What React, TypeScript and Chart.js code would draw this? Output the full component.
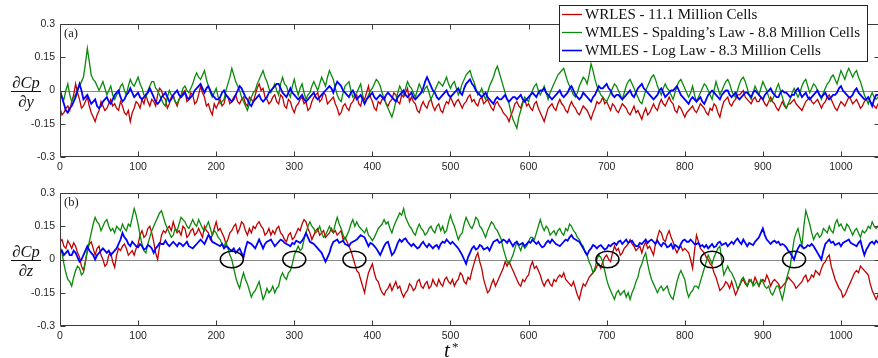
import React, { useEffect, useRef } from "react";
import { Chart, registerables } from "chart.js";

Chart.register(...registerables);

// ---------- data ----------
const T_STEP = 5; // sampling interval of the main samples (t*)
const T_MIN = 0;
const T_MAX = 1050;
const X_TICKS = [0, 100, 200, 300, 400, 500, 600, 700, 800, 900, 1000];
const Y_TICKS = [-0.3, -0.15, 0, 0.15, 0.3];
const Y_TICK_LABELS = ["-0.3", "-0.15", "0", "0.15", "0.3"];
const SERIES_LABELS = [
  "WRLES - 11.1 Million Cells",
  "WMLES - Spalding\u2019s Law - 8.8 Million Cells",
  "WMLES - Log Law - 8.3 Million Cells",
];
const PANEL_LABELS = ["(a)", "(b)"];
const Y_LABEL_NUM = "\u2202Cp";
const Y_LABEL_DEN = ["\u2202y", "\u2202z"];
const X_TITLE = "t";
const X_TITLE_SUP = "*";
// circled sign changes in panel (b), at t*
const MARK_T = [220, 300, 377, 701, 835, 940];

// panel (a): dCp/dy — samples at t = 0,5,10,...
const A_WRLES = [
  -0.08, -0.1, -0.07, -0.05, 0.03, -0.04, -0.07, -0.03, -0.1, -0.14,
  -0.09, -0.07, -0.08, -0.04, -0.06, -0.09, -0.07, -0.11, -0.14, -0.08,
  -0.06, -0.04, -0.02, -0.07, -0.05, -0.02, 0.0, -0.04, -0.06, -0.02,
  -0.07, -0.03, 0.0, -0.04, -0.02, -0.05, 0.02, -0.03, -0.06, -0.11,
  -0.08, -0.04, -0.06, -0.03, -0.05, -0.02, -0.06, -0.03, -0.07, -0.04,
  -0.02, 0.03, 0.01, -0.04, -0.05, -0.02, -0.06, -0.03, -0.08, -0.05,
  -0.1, -0.06, -0.03, -0.05, -0.08, -0.03, -0.01, -0.04, -0.02, -0.05,
  -0.03, -0.08, -0.1, -0.06, -0.09, -0.05, -0.02, -0.07, -0.04, 0.02,
  -0.05, -0.09, -0.06, -0.03, -0.07, -0.04, -0.02, -0.06, -0.03, 0.01,
  -0.03, -0.06, -0.1, -0.05, -0.08, -0.04, -0.09, -0.06, -0.1, -0.05,
  -0.03, -0.07, -0.04, -0.08, -0.05, -0.02, -0.04, -0.07, -0.03, -0.05,
  -0.06, -0.09, -0.05, -0.08, -0.11, -0.14, -0.09, -0.05, -0.08, -0.04,
  -0.06, -0.09, -0.05, -0.1, -0.14, -0.08, -0.06, -0.09, -0.04, -0.07,
  -0.1, -0.05, -0.08, -0.11, -0.07, -0.09, -0.13, -0.08, -0.06, -0.03,
  -0.05, -0.09, -0.07, -0.1, -0.06, -0.08, -0.11, -0.07, -0.09, -0.13,
  -0.08, -0.1, -0.06, -0.09, -0.04, -0.07, -0.03, -0.06, -0.1, -0.08,
  -0.12, -0.09, -0.07, -0.1, -0.06, -0.08, -0.11, -0.09, -0.07, -0.12,
  -0.05, -0.03, -0.07, -0.04, -0.02, 0.0, -0.04, -0.06, -0.03, -0.05,
  -0.04, -0.07, -0.03, -0.06, -0.09, -0.05, -0.08, -0.06, -0.04, -0.07,
  -0.09, -0.05, -0.03, -0.06, -0.04, -0.08, -0.05, -0.02, -0.06, -0.09,
  -0.05, -0.07, -0.03, -0.06, -0.04, -0.08, -0.05, -0.03, -0.06, -0.08, -0.05,
];
// samples at t = 2.5, 7.5, 12.5, ...
const A_WRLES_MID = [
  -0.11, -0.08, -0.09, -0.02, -0.01, -0.08, -0.05, -0.07, -0.12, -0.11,
  -0.05, -0.09, -0.06, -0.07, -0.08, -0.05, -0.1, -0.09, -0.1, -0.05,
  -0.08, -0.06, -0.05, -0.04, -0.07, 0.01, -0.03, -0.08, -0.03, -0.05,
  -0.04, -0.01, -0.05, -0.01, -0.06, -0.02, -0.01, -0.07, -0.09, -0.06,
  -0.06, -0.07, -0.02, -0.06, -0.03, -0.05, -0.04, -0.06, -0.03, -0.05,
  0.01, 0.0, -0.03, -0.06, -0.03, -0.05, -0.02, -0.07, -0.04, -0.08,
  -0.07, -0.04, -0.06, -0.09, -0.05, -0.02, -0.05, -0.01, -0.06, -0.04,
  -0.06, -0.11, -0.07, -0.08, -0.06, -0.03, -0.06, -0.03, -0.01, -0.03,
  -0.08, -0.05, -0.04, -0.06, -0.05, -0.01, -0.05, -0.02, -0.01, -0.05,
  -0.05, -0.09, -0.07, -0.07, -0.05, -0.07, -0.07, -0.09, -0.07, -0.06,
  -0.05, -0.05, -0.06, -0.06, -0.03, -0.05, -0.06, -0.04, -0.06, -0.04,
  -0.08, -0.06, -0.07, -0.1, -0.12, -0.11, -0.06, -0.07, -0.05, -0.07,
  -0.08, -0.06, -0.08, -0.12, -0.11, -0.07, -0.08, -0.06, -0.06, -0.09,
  -0.07, -0.07, -0.1, -0.09, -0.08, -0.11, -0.1, -0.05, -0.05, -0.06,
  -0.07, -0.06, -0.09, -0.08, -0.07, -0.1, -0.09, -0.1, -0.11, -0.1,
  -0.11, -0.08, -0.08, -0.06, -0.06, -0.05, -0.05, -0.09, -0.07, -0.1,
  -0.1, -0.08, -0.09, -0.08, -0.07, -0.1, -0.08, -0.06, -0.1, -0.08,
  -0.04, -0.06, -0.05, -0.02, -0.01, -0.03, -0.05, -0.04, -0.05, -0.03,
  -0.06, -0.05, -0.05, -0.08, -0.07, -0.07, -0.06, -0.05, -0.06, -0.08,
  -0.07, -0.04, -0.05, -0.05, -0.06, -0.06, -0.03, -0.04, -0.08, -0.07,
  -0.06, -0.05, -0.04, -0.05, -0.06, -0.07, -0.04, -0.05, -0.07, -0.06,
];
const A_SPALDING = [
  0.0, -0.04, 0.03, -0.05, -0.02, 0.02, 0.06, 0.19, 0.07, 0.04,
  0.0, 0.04, -0.02, 0.02, -0.04, -0.01, 0.03, -0.02, 0.05, 0.02,
  0.06, 0.01, -0.03, 0.02, 0.04, 0.0, -0.04, -0.07, 0.0, -0.03,
  -0.06, -0.02, 0.02, -0.01, 0.03, 0.08, 0.05, 0.09, 0.02, -0.03,
  0.01, -0.06, -0.04, 0.03, 0.1, 0.04, 0.0, -0.05, -0.09, -0.03,
  0.0, 0.05, 0.09, 0.04, -0.01, 0.03, -0.02, 0.06, 0.02, -0.03,
  0.05, -0.02, 0.03, -0.04, -0.01, 0.04, 0.0, 0.06, 0.02, 0.09,
  0.05, -0.02, -0.05, 0.02, 0.04, -0.03, -0.01, 0.03, -0.06, -0.02,
  0.01, 0.05, 0.02, -0.04, -0.08, -0.12, -0.05, 0.02, -0.02, 0.04,
  0.01, -0.03, 0.03, -0.01, 0.02, -0.04, 0.0, 0.04, 0.02, 0.06,
  0.01, 0.04, -0.02, 0.03, 0.07, 0.09, 0.04, -0.02, 0.01, -0.04,
  0.02, 0.06, 0.11, 0.05, -0.01, -0.06, -0.13, -0.17, -0.09, -0.03,
  -0.05, 0.0, 0.03, -0.02, 0.02, -0.04, 0.01, 0.05, 0.08, 0.1,
  0.04, 0.0, -0.03, 0.02, 0.06, 0.03, 0.12, 0.05, 0.0, -0.03,
  -0.05, -0.01, 0.03, 0.0, -0.04, 0.02, 0.05, 0.01, -0.03, -0.06,
  0.0, 0.04, 0.07, 0.02, -0.02, 0.03, 0.0, -0.04, 0.02, 0.05,
  0.01, -0.03, 0.02, -0.05, -0.01, 0.03, 0.0, -0.04, 0.04, -0.02,
  0.02, 0.05, 0.0, -0.03, 0.03, 0.06, 0.01, -0.04, 0.02, -0.02,
  0.04, 0.0, -0.05, -0.02, 0.03, -0.03, -0.08, -0.04, 0.01, -0.03,
  0.02, 0.05, -0.01, 0.03, 0.0, -0.04, 0.01, 0.04, 0.07, 0.03,
  0.09, 0.05, 0.1, 0.06, 0.09, 0.04, -0.02, -0.06, -0.01, -0.04, -0.02,
];
const A_SPALDING_MID = [
  -0.03, 0.0, -0.02, -0.03, 0.01, 0.04, 0.12, 0.13, 0.05, 0.02,
  0.02, 0.01, 0.0, -0.02, -0.02, 0.02, 0.0, 0.02, 0.03, 0.04,
  0.03, -0.02, 0.0, 0.04, 0.01, -0.02, -0.06, -0.03, -0.02, -0.05,
  -0.04, 0.01, 0.0, 0.01, 0.06, 0.06, 0.07, 0.05, -0.01, -0.01,
  -0.03, -0.05, 0.0, 0.06, 0.07, 0.02, -0.03, -0.07, -0.06, -0.01,
  0.03, 0.07, 0.06, 0.01, 0.01, 0.0, 0.03, 0.03, -0.01, 0.02,
  0.01, 0.01, -0.01, -0.02, 0.02, 0.02, 0.03, 0.04, 0.06, 0.07,
  0.01, -0.04, -0.01, 0.03, 0.0, -0.02, 0.01, -0.02, -0.04, 0.0,
  0.03, 0.04, -0.01, -0.06, -0.1, -0.09, -0.01, 0.0, 0.01, 0.02,
  -0.01, 0.0, 0.01, 0.01, -0.01, -0.02, 0.02, 0.03, 0.04, 0.03,
  0.03, 0.01, 0.0, 0.05, 0.08, 0.06, 0.01, -0.01, -0.02, -0.01,
  0.04, 0.09, 0.08, 0.02, -0.04, -0.1, -0.15, -0.12, -0.06, -0.04,
  -0.02, 0.02, 0.0, 0.0, -0.01, -0.01, 0.03, 0.07, 0.09, 0.07,
  0.02, -0.02, -0.01, 0.04, 0.05, 0.07, 0.09, 0.02, -0.02, -0.04,
  -0.03, 0.01, 0.02, -0.02, -0.01, 0.04, 0.03, -0.01, -0.05, -0.03,
  0.02, 0.06, 0.05, 0.0, 0.01, 0.01, -0.02, -0.01, 0.04, 0.03,
  -0.01, -0.01, -0.02, -0.03, 0.01, 0.02, -0.02, 0.0, 0.01, 0.0,
  0.04, 0.03, -0.02, 0.0, 0.05, 0.04, -0.02, -0.01, 0.0, 0.01,
  0.02, -0.03, -0.04, 0.01, 0.0, -0.06, -0.06, -0.01, -0.01, -0.01,
  0.04, 0.02, 0.01, 0.02, -0.02, -0.01, 0.03, 0.06, 0.05, 0.06,
  0.07, 0.08, 0.08, 0.08, 0.06, 0.01, -0.04, -0.03, -0.03, -0.03,
];
const A_LOGLAW = [
  0.0, -0.06, -0.1, -0.07, -0.03, 0.03, -0.04, -0.02, -0.06, -0.04,
  -0.08, -0.05, -0.03, -0.06, -0.02, 0.0, -0.05, -0.02, 0.01, -0.03,
  -0.01, -0.04, -0.02, 0.01, -0.03, -0.06, -0.03, -0.01, -0.05, -0.02,
  0.0, -0.03, -0.01, -0.04, -0.02, 0.01, 0.03, -0.01, 0.02, -0.02,
  -0.04, -0.03, 0.0, -0.03, -0.05, -0.02, 0.02, -0.01, -0.04, -0.07,
  -0.04, -0.02, -0.05, -0.03, 0.0, 0.02, 0.03, -0.01, -0.03, 0.01,
  -0.02, -0.04, -0.02, -0.05, -0.03, -0.01, -0.04, -0.02, 0.0, 0.02,
  -0.01, 0.04, 0.02, -0.01, -0.03, 0.0, -0.04, -0.02, -0.06, -0.03,
  -0.01, -0.04, -0.02, -0.04, -0.01, -0.03, -0.05, -0.02, 0.0, -0.03,
  -0.01, -0.04, -0.02, 0.01, 0.06, 0.02, -0.01, -0.04, -0.02, 0.0,
  -0.03, -0.01, 0.01, -0.02, 0.03, 0.05, 0.02, -0.01, -0.03, -0.01,
  -0.04, -0.06, -0.03, -0.04, -0.02, -0.05, -0.03, -0.04, -0.02, -0.05,
  -0.03, -0.01, -0.03, 0.0, 0.01, -0.02, -0.04, -0.02, 0.0, -0.03,
  -0.01, 0.02, -0.02, -0.04, -0.01, -0.03, -0.05, -0.02, 0.02, 0.01,
  0.03, 0.0, -0.03, -0.02, -0.04, -0.02, 0.0, -0.03, 0.01, 0.03,
  0.0, -0.02, -0.04, -0.02, 0.01, -0.03, -0.01, 0.0, 0.02, -0.02,
  -0.04, -0.06, -0.03, -0.05, -0.03, -0.06, -0.02, 0.0, -0.02, -0.04,
  -0.01, 0.0, -0.03, -0.01, -0.04, -0.02, -0.01, -0.03, 0.0, -0.02,
  -0.04, -0.01, 0.01, -0.02, -0.03, 0.0, -0.01, -0.03, -0.02, 0.01,
  -0.03, -0.01, -0.04, -0.02, 0.0, -0.03, -0.01, -0.04, -0.02, -0.01,
  0.02, -0.01, -0.03, -0.02, 0.01, -0.02, -0.04, -0.03, -0.07, -0.02, -0.03,
];
const A_LOGLAW_MID = [
  -0.03, -0.09, -0.08, -0.05, 0.0, 0.0, -0.03, -0.04, -0.05, -0.07,
  -0.07, -0.04, -0.05, -0.04, -0.01, -0.03, -0.04, -0.01, -0.01, -0.02,
  -0.03, -0.03, -0.01, -0.01, -0.05, -0.05, -0.02, -0.03, -0.04, -0.01,
  -0.02, -0.02, -0.03, -0.03, 0.0, 0.02, 0.01, 0.01, 0.0, -0.03,
  -0.04, -0.01, -0.02, -0.04, -0.04, 0.0, 0.01, -0.03, -0.06, -0.05,
  -0.03, -0.04, -0.04, -0.01, 0.01, 0.03, 0.01, -0.02, -0.01, -0.01,
  -0.03, -0.03, -0.04, -0.04, -0.02, -0.03, -0.03, -0.01, 0.01, 0.01,
  0.02, 0.03, 0.0, -0.02, -0.01, -0.02, -0.03, -0.04, -0.04, -0.02,
  -0.03, -0.03, -0.03, -0.02, -0.02, -0.04, -0.03, -0.01, -0.02, -0.02,
  -0.03, -0.03, -0.01, 0.04, 0.04, 0.0, -0.03, -0.03, -0.01, -0.02,
  -0.02, 0.0, -0.01, 0.01, 0.04, 0.03, 0.0, -0.02, -0.02, -0.03,
  -0.05, -0.04, -0.04, -0.03, -0.04, -0.04, -0.03, -0.03, -0.04, -0.04,
  -0.02, -0.02, -0.01, 0.0, -0.01, -0.03, -0.03, -0.01, -0.02, -0.02,
  0.01, 0.0, -0.03, -0.03, -0.02, -0.04, -0.03, 0.0, 0.01, 0.02,
  0.01, -0.02, -0.02, -0.03, -0.03, -0.01, -0.02, -0.01, 0.02, 0.01,
  -0.01, -0.03, -0.03, 0.0, -0.01, -0.02, 0.0, 0.01, 0.0, -0.03,
  -0.05, -0.04, -0.04, -0.04, -0.05, -0.04, -0.01, -0.01, -0.03, -0.02,
  0.0, -0.02, -0.02, -0.03, -0.03, -0.01, -0.02, -0.01, -0.01, -0.03,
  -0.02, 0.0, -0.01, -0.03, -0.01, -0.01, -0.02, -0.02, 0.0, -0.01,
  -0.02, -0.03, -0.03, -0.01, -0.02, -0.02, -0.03, -0.03, -0.02, 0.01,
  0.0, -0.02, -0.03, 0.0, -0.01, -0.03, -0.04, -0.05, -0.04, -0.02,
];

// panel (b): dCp/dz
const B_WRLES = [
  0.08, 0.06, 0.085, 0.05, 0.06, 0.01, -0.05, 0.04, 0.08, 0.02,
  0.06, 0.0, -0.02, 0.03, -0.035, 0.05, 0.06, 0.05, 0.03, 0.02,
  0.07, 0.13, 0.11, 0.15, 0.08, 0.0, 0.11, 0.12, 0.15, 0.17,
  0.12, 0.11, 0.14, 0.11, 0.14, 0.12, 0.12, 0.15, 0.12, 0.11,
  0.17, 0.14, 0.1, 0.09, 0.13, 0.16, 0.14, 0.16, 0.11, 0.12,
  0.14, 0.17, 0.14, 0.12, 0.11, 0.115, 0.15, 0.11, 0.08, 0.12,
  0.1, 0.14, 0.16, 0.17, 0.12, 0.11, 0.14, 0.12, 0.1, 0.12,
  0.12, 0.11, 0.13, 0.1, 0.06, 0.01, -0.05, -0.09, -0.15, -0.06,
  -0.02, -0.09, -0.13, -0.16, -0.13, -0.14, -0.1, -0.12, -0.17, -0.14,
  -0.12, -0.13, -0.09, -0.13, -0.1, -0.12, -0.11, -0.09, -0.12, -0.08,
  -0.11, -0.12, -0.09, -0.07, -0.11, -0.09, -0.02, 0.03, -0.04, -0.12,
  -0.14, -0.09, -0.1, -0.06, -0.01, -0.01, -0.05, -0.09, -0.12, -0.1,
  -0.07, -0.01, -0.03, -0.07, -0.12, -0.09, -0.12, -0.1, -0.07, -0.06,
  -0.1, -0.12, -0.13, -0.18, -0.11, -0.1, -0.07, -0.05, -0.02, -0.01,
  0.02, -0.01, 0.06, 0.05, 0.03, 0.06, 0.09, 0.06, 0.05, 0.03,
  0.08, 0.06, 0.02, 0.1, 0.12, 0.08, 0.13, 0.08, 0.03, 0.06,
  0.05, 0.03, -0.04, 0.11, 0.05, 0.03, 0.0, -0.03, -0.08, -0.14,
  -0.12, -0.11, -0.1, -0.16, -0.12, -0.09, -0.12, -0.1, -0.08, -0.12,
  -0.09, -0.07, -0.12, -0.09, -0.11, -0.12, -0.1, -0.09, -0.11, -0.12,
  -0.1, -0.07, -0.09, -0.08, -0.06, -0.04, -0.01, 0.02, -0.06, -0.11,
  -0.14, -0.16, -0.12, -0.08, -0.05, -0.03, -0.05, -0.07, -0.14, -0.18, -0.15,
];
const B_WRLES_MID = [
  0.09, 0.05, 0.07, 0.075, 0.03, -0.03, -0.01, 0.07, 0.05, 0.05,
  0.02, -0.03, 0.02, -0.01, 0.02, 0.04, 0.07, 0.02, 0.04, 0.05,
  0.11, 0.1, 0.14, 0.12, 0.03, 0.06, 0.13, 0.14, 0.13, 0.14,
  0.13, 0.15, 0.1, 0.13, 0.11, 0.14, 0.1, 0.13, 0.09, 0.14,
  0.13, 0.12, 0.07, 0.12, 0.15, 0.12, 0.17, 0.13, 0.14, 0.15,
  0.16, 0.15, 0.11, 0.14, 0.13, 0.14, 0.12, 0.09, 0.11, 0.09,
  0.12, 0.13, 0.18, 0.14, 0.09, 0.13, 0.11, 0.13, 0.11, 0.14,
  0.13, 0.12, 0.09, 0.08, 0.04, -0.02, -0.06, -0.12, -0.1, -0.04,
  -0.06, -0.1, -0.15, -0.14, -0.11, -0.12, -0.13, -0.15, -0.15, -0.11,
  -0.14, -0.1, -0.12, -0.11, -0.13, -0.09, -0.12, -0.11, -0.09, -0.1,
  -0.09, -0.1, -0.06, -0.1, -0.08, -0.05, 0.01, -0.01, -0.09, -0.15,
  -0.11, -0.12, -0.08, -0.04, -0.03, -0.03, -0.07, -0.11, -0.09, -0.08,
  -0.03, -0.04, -0.05, -0.1, -0.1, -0.11, -0.09, -0.08, -0.08, -0.09,
  -0.11, -0.1, -0.16, -0.14, -0.12, -0.08, -0.06, -0.03, -0.04, 0.01,
  0.0, 0.03, 0.04, 0.02, 0.05, 0.07, 0.07, 0.04, 0.06, 0.06,
  0.05, 0.04, 0.07, 0.13, 0.09, 0.11, 0.1, 0.05, 0.05, 0.04,
  0.04, 0.0, 0.04, 0.08, 0.04, 0.01, -0.02, -0.06, -0.11, -0.13,
  -0.1, -0.13, -0.13, -0.14, -0.1, -0.11, -0.09, -0.11, -0.1, -0.1,
  -0.1, -0.09, -0.1, -0.1, -0.13, -0.11, -0.08, -0.1, -0.13, -0.11,
  -0.08, -0.1, -0.07, -0.05, -0.07, -0.02, 0.01, -0.03, -0.09, -0.13,
  -0.17, -0.14, -0.1, -0.06, -0.06, -0.04, -0.06, -0.11, -0.16, -0.16,
];
const B_SPALDING = [
  0.06, -0.02, -0.09, -0.12, -0.05, -0.04, -0.06, 0.04, 0.12, 0.19,
  0.16, 0.15, 0.18, 0.13, 0.12, 0.14, 0.16, 0.13, 0.15, 0.23,
  0.16, 0.07, 0.03, 0.1, 0.15, 0.19, 0.22, 0.16, 0.12, 0.11,
  0.13, 0.19, 0.17, 0.14, 0.18, 0.15, 0.16, 0.13, 0.17, 0.11,
  0.12, 0.09, 0.06, 0.05, 0.0, -0.08, -0.13, -0.06, -0.11, -0.17,
  -0.14, -0.1, -0.18, -0.13, -0.14, -0.15, -0.12, -0.06, -0.09, -0.05,
  0.02, 0.06, 0.05, 0.12, 0.17, 0.14, 0.13, 0.12, 0.11, 0.15,
  0.12, 0.19, 0.14, 0.09, 0.13, 0.18, 0.17, 0.14, 0.12, 0.11,
  0.085, 0.12, 0.15, 0.18, 0.17, 0.12, 0.17, 0.21, 0.23, 0.17,
  0.14, 0.11, 0.16, 0.13, 0.12, 0.15, 0.12, 0.16, 0.15, 0.13,
  0.2, 0.15, 0.09, 0.12, 0.19, 0.15, 0.16, 0.18, 0.14, 0.1,
  0.15, 0.16, 0.13, 0.09, 0.02, -0.02, 0.02, 0.08, 0.04, 0.05,
  0.08, 0.1, 0.12, 0.18, 0.13, 0.14, 0.12, 0.11, 0.14, 0.11,
  0.13, 0.15, 0.12, 0.09, 0.06, 0.02, -0.03, -0.04, 0.02, -0.01,
  -0.09, -0.14, -0.18, -0.14, -0.15, -0.17, -0.18, -0.13, -0.08, -0.02,
  0.03, -0.06, -0.11, -0.15, -0.12, -0.13, -0.15, -0.18, -0.1, -0.05,
  -0.09, -0.17, -0.14, -0.12, -0.1, -0.04, 0.02, -0.02, 0.03, 0.06,
  -0.07, -0.03, -0.06, -0.1, -0.12, -0.08, -0.12, -0.09, -0.11, -0.12,
  -0.1, -0.13, -0.15, -0.14, -0.12, -0.18, -0.09, -0.03, 0.09, 0.14,
  0.06, 0.22, 0.16, 0.09, 0.12, 0.11, 0.13, 0.15, 0.12, 0.18,
  0.16, 0.13, 0.15, 0.11, 0.14, 0.1, 0.12, 0.15, 0.17, 0.14, 0.16,
];
const B_SPALDING_MID = [
  0.03, -0.06, -0.1, -0.08, -0.03, -0.07, -0.01, 0.08, 0.16, 0.17,
  0.13, 0.17, 0.15, 0.14, 0.15, 0.13, 0.14, 0.16, 0.19, 0.2,
  0.11, 0.04, 0.07, 0.13, 0.17, 0.21, 0.19, 0.14, 0.1, 0.14,
  0.16, 0.18, 0.15, 0.16, 0.16, 0.18, 0.14, 0.15, 0.14, 0.13,
  0.1, 0.07, 0.08, 0.02, -0.04, -0.11, -0.09, -0.09, -0.14, -0.15,
  -0.12, -0.14, -0.16, -0.15, -0.12, -0.13, -0.08, -0.08, -0.06, -0.02,
  0.04, 0.04, 0.09, 0.15, 0.15, 0.12, 0.15, 0.1, 0.13, 0.13,
  0.16, 0.16, 0.11, 0.11, 0.16, 0.15, 0.15, 0.13, 0.14, 0.1,
  0.1, 0.14, 0.16, 0.16, 0.14, 0.15, 0.19, 0.2, 0.19, 0.15,
  0.12, 0.14, 0.14, 0.11, 0.14, 0.13, 0.15, 0.13, 0.12, 0.17,
  0.17, 0.12, 0.11, 0.16, 0.17, 0.14, 0.19, 0.15, 0.12, 0.13,
  0.17, 0.14, 0.11, 0.05, -0.01, 0.0, 0.05, 0.06, 0.07, 0.06,
  0.1, 0.09, 0.15, 0.15, 0.15, 0.11, 0.13, 0.13, 0.12, 0.14,
  0.16, 0.13, 0.1, 0.07, 0.03, -0.01, -0.06, 0.0, 0.01, -0.05,
  -0.12, -0.16, -0.15, -0.16, -0.14, -0.15, -0.15, -0.1, -0.04, 0.01,
  -0.02, -0.09, -0.13, -0.13, -0.14, -0.12, -0.17, -0.14, -0.07, -0.07,
  -0.14, -0.15, -0.12, -0.13, -0.07, -0.01, 0.0, 0.01, 0.05, -0.01,
  -0.05, -0.05, -0.08, -0.13, -0.09, -0.1, -0.1, -0.12, -0.1, -0.09,
  -0.12, -0.12, -0.16, -0.12, -0.15, -0.14, -0.06, 0.03, 0.12, 0.1,
  0.15, 0.19, 0.12, 0.11, 0.1, 0.14, 0.12, 0.13, 0.16, 0.15,
  0.14, 0.16, 0.13, 0.13, 0.12, 0.13, 0.13, 0.14, 0.15, 0.15,
];
const B_LOGLAW = [
  0.03, 0.02, 0.04, 0.02, 0.03, -0.01, 0.02, 0.06, 0.03, 0.0,
  0.03, 0.05, 0.03, 0.02, 0.04, 0.07, 0.12, 0.09, 0.06, 0.07,
  0.055, 0.06, 0.05, 0.06, 0.03, 0.06, 0.07, 0.085, 0.06, 0.08,
  0.06, 0.07, 0.07, 0.06, 0.05, 0.07, 0.09, 0.07, 0.11, 0.08,
  0.07, 0.06, 0.05, 0.055, 0.04, 0.03, 0.05, 0.01, 0.08, 0.07,
  0.05, 0.09, 0.05, 0.08, 0.09, 0.06, 0.08, 0.085, 0.07, 0.06,
  0.07, 0.08, 0.085, 0.12, 0.08, 0.07, 0.05, 0.03, -0.01, 0.03,
  0.08, 0.09, 0.08, 0.07, 0.06, 0.08, 0.09, 0.11, 0.1, 0.06,
  0.07, 0.05, 0.02, 0.06, 0.08, 0.02, 0.05, 0.09, 0.09, 0.08,
  0.06, 0.06, 0.055, 0.08, 0.055, 0.06, 0.06, 0.05, 0.08, 0.09,
  0.07, 0.07, 0.05, 0.02, -0.02, 0.03, 0.06, 0.05, 0.06, 0.05,
  0.04, 0.08, 0.09, 0.08, 0.085, 0.09, 0.06, 0.08, 0.07, 0.06,
  0.08, 0.09, 0.07, 0.065, 0.06, 0.085, 0.09, 0.07, 0.06, 0.08,
  0.085, 0.11, 0.09, 0.08, 0.05, 0.02, 0.05, 0.06, 0.06, 0.055,
  0.05, 0.06, 0.075, 0.08, 0.07, 0.09, 0.08, 0.07, 0.06, 0.07,
  0.09, 0.085, 0.08, 0.085, 0.06, 0.07, 0.06, 0.05, 0.06, 0.07,
  0.09, 0.08, 0.08, 0.07, 0.06, 0.055, 0.05, 0.07, 0.06, 0.08,
  0.07, 0.06, 0.08, 0.085, 0.08, 0.09, 0.06, 0.07, 0.08, 0.1,
  0.14, 0.09, 0.07, 0.085, 0.08, 0.07, 0.055, 0.03, 0.0, 0.05,
  0.06, 0.055, 0.06, 0.06, 0.03, 0.0, 0.07, 0.09, 0.08, 0.07,
  0.06, 0.08, 0.09, 0.07, 0.06, 0.085, 0.02, 0.06, 0.08, 0.085, 0.07,
];
const B_LOGLAW_MID = [
  0.04, 0.03, 0.02, 0.04, 0.01, 0.0, 0.04, 0.04, 0.02, 0.02,
  0.04, 0.04, 0.04, 0.03, 0.05, 0.09, 0.1, 0.07, 0.08, 0.06,
  0.07, 0.045, 0.065, 0.05, 0.05, 0.075, 0.07, 0.07, 0.07, 0.07,
  0.075, 0.06, 0.08, 0.055, 0.06, 0.08, 0.08, 0.09, 0.1, 0.075,
  0.065, 0.07, 0.06, 0.045, 0.05, 0.04, 0.03, 0.05, 0.075, 0.06,
  0.07, 0.07, 0.07, 0.085, 0.075, 0.07, 0.09, 0.075, 0.065, 0.075,
  0.085, 0.075, 0.1, 0.1, 0.075, 0.06, 0.04, 0.01, 0.01, 0.06,
  0.085, 0.075, 0.085, 0.065, 0.075, 0.085, 0.1, 0.105, 0.08, 0.075,
  0.06, 0.035, 0.04, 0.075, 0.05, 0.03, 0.075, 0.08, 0.095, 0.07,
  0.07, 0.05, 0.07, 0.065, 0.07, 0.05, 0.065, 0.07, 0.075, 0.08,
  0.08, 0.06, 0.035, 0.0, 0.01, 0.05, 0.045, 0.065, 0.045, 0.055,
  0.06, 0.085, 0.075, 0.09, 0.075, 0.075, 0.075, 0.065, 0.075, 0.07,
  0.075, 0.08, 0.08, 0.055, 0.075, 0.075, 0.08, 0.065, 0.07, 0.09,
  0.1, 0.095, 0.085, 0.065, 0.035, 0.04, 0.065, 0.05, 0.065, 0.045,
  0.065, 0.07, 0.065, 0.085, 0.08, 0.075, 0.085, 0.06, 0.075, 0.08,
  0.075, 0.09, 0.07, 0.07, 0.075, 0.055, 0.07, 0.065, 0.05, 0.085,
  0.08, 0.09, 0.07, 0.075, 0.065, 0.065, 0.06, 0.055, 0.075, 0.065,
  0.075, 0.07, 0.07, 0.095, 0.07, 0.075, 0.075, 0.065, 0.09, 0.12,
  0.11, 0.08, 0.08, 0.075, 0.065, 0.065, 0.04, 0.015, 0.03, 0.065,
  0.05, 0.065, 0.07, 0.045, 0.015, 0.04, 0.08, 0.075, 0.065, 0.075,
  0.075, 0.085, 0.075, 0.065, 0.075, 0.05, 0.045, 0.075, 0.07, 0.075,
];

const PANEL_A = [
  [A_WRLES, A_WRLES_MID],
  [A_SPALDING, A_SPALDING_MID],
  [A_LOGLAW, A_LOGLAW_MID],
];
const PANEL_B = [
  [B_WRLES, B_WRLES_MID],
  [B_SPALDING, B_SPALDING_MID],
  [B_LOGLAW, B_LOGLAW_MID],
];

// ---------- styling ----------
const COLORS = ["#C00000", "#0A8A0A", "#0000FF"];
const WIDTHS = [1.3, 1.3, 1.8];
const ORDERS = [2, 1, 0];
const AXIS_COLOR = "#3a3a3a";
const TICK_FONT = { family: "'Liberation Sans', Arial, sans-serif", size: 10.5 };
const SERIF = "'Liberation Serif', 'Times New Roman', serif";
const CANVAS_W = 882;

function toPoints(main: number[], mid: number[]) {
  const pts: { x: number; y: number }[] = [];
  main.forEach((v, i) => {
    pts.push({ x: T_MIN + i * T_STEP, y: v });
    if (i < mid.length) pts.push({ x: T_MIN + i * T_STEP + T_STEP / 2, y: mid[i] });
  });
  return pts;
}

function makeDecor(opts: { panel: number; legend: boolean; xTitle: boolean; marks: number[] }) {
  return {
    id: "decor" + opts.panel,
    beforeDatasetsDraw(chart: any) {
      const { ctx, chartArea } = chart;
      const y = chart.scales.y;
      const y0 = Math.round(y.getPixelForValue(0)) + 0.5;
      ctx.save();
      ctx.strokeStyle = "#8a8a8a";
      ctx.lineWidth = 1;
      ctx.beginPath();
      ctx.moveTo(chartArea.left, y0);
      ctx.lineTo(chartArea.right, y0);
      ctx.stroke();
      ctx.restore();
    },
    afterDatasetsDraw(chart: any) {
      const { ctx, chartArea } = chart;
      const { left, right, top, bottom } = chartArea;
      const xs = chart.scales.x;
      const ys = chart.scales.y;
      ctx.save();
      // circled points
      if (opts.marks.length) {
        const y0 = ys.getPixelForValue(0);
        ctx.strokeStyle = "#000";
        ctx.lineWidth = 1.5;
        for (const t of opts.marks) {
          ctx.beginPath();
          ctx.ellipse(xs.getPixelForValue(t), y0, 11.5, 8.3, 0, 0, Math.PI * 2);
          ctx.stroke();
        }
      }
      ctx.strokeStyle = AXIS_COLOR;
      ctx.lineWidth = 1;
      const L = Math.round(left) + 0.5;
      const R = Math.round(right) - 0.5;
      const T = Math.round(top) + 0.5;
      const B = Math.round(bottom) - 0.5;
      ctx.beginPath();
      ctx.moveTo(L, T);
      ctx.lineTo(R, T);
      ctx.lineTo(R, B);
      ctx.lineTo(L, B);
      ctx.closePath();
      ctx.stroke();
      const tl = 5;
      ctx.beginPath();
      for (const v of X_TICKS) {
        const px = Math.round(xs.getPixelForValue(v)) + 0.5;
        ctx.moveTo(px, B);
        ctx.lineTo(px, B - tl);
        ctx.moveTo(px, T);
        ctx.lineTo(px, T + tl);
      }
      for (const v of Y_TICKS) {
        const py = Math.round(ys.getPixelForValue(v)) + 0.5;
        ctx.moveTo(L, py);
        ctx.lineTo(L + tl, py);
        ctx.moveTo(R, py);
        ctx.lineTo(R - tl, py);
      }
      ctx.stroke();

      ctx.fillStyle = "#222";
      ctx.font = "12.5px " + SERIF;
      ctx.textAlign = "left";
      ctx.textBaseline = "middle";
      ctx.fillText(PANEL_LABELS[opts.panel], left + 4, top + 10);
      ctx.restore();
    },
    afterDraw(chart: any) {
      const { ctx } = chart;
      const ys = chart.scales.y;
      ctx.save();
      const barY = Math.round(ys.getPixelForValue(0)) + 0.5;
      const cx = 26;
      ctx.strokeStyle = "#111";
      ctx.lineWidth = 1;
      ctx.beginPath();
      ctx.moveTo(11, barY);
      ctx.lineTo(41, barY);
      ctx.stroke();
      ctx.fillStyle = "#111";
      ctx.font = "italic 16.5px " + SERIF;
      ctx.textAlign = "center";
      ctx.textBaseline = "alphabetic";
      ctx.fillText(Y_LABEL_NUM, cx, barY - 4);
      ctx.fillText(Y_LABEL_DEN[opts.panel], cx, barY + 15);

      if (opts.xTitle) {
        ctx.textAlign = "left";
        ctx.font = "italic 21px " + SERIF;
        ctx.fillText(X_TITLE, 444, chart.height - 1);
        ctx.font = "13px " + SERIF;
        ctx.fillText(X_TITLE_SUP, 452, chart.height - 7);
      }

      if (opts.legend) {
        const bx = 559.5, by = 5.5, bw = 308, bh = 56;
        ctx.fillStyle = "#fff";
        ctx.fillRect(bx, by, bw, bh);
        ctx.strokeStyle = "#222";
        ctx.lineWidth = 1;
        ctx.strokeRect(bx, by, bw, bh);
        ctx.font = "15px " + SERIF;
        ctx.textAlign = "left";
        ctx.textBaseline = "middle";
        const rows = [14, 32, 50];
        SERIES_LABELS.forEach((lab, i) => {
          ctx.strokeStyle = COLORS[i];
          ctx.lineWidth = i === 2 ? 1.6 : 1.3;
          ctx.beginPath();
          ctx.moveTo(562, rows[i] + 0.5);
          ctx.lineTo(582, rows[i] + 0.5);
          ctx.stroke();
          ctx.fillStyle = "#111";
          ctx.fillText(lab, 585, rows[i] + 1);
        });
      }
      ctx.restore();
    },
  };
}

function buildConfig(
  series: number[][][],
  panel: number,
  padTop: number,
  xAxisH: number,
  legend: boolean,
  xTitle: boolean,
  marks: number[]
): any {
  return {
    type: "line",
    data: {
      datasets: series.map(([main, mid], i) => ({
        label: SERIES_LABELS[i],
        data: toPoints(main, mid),
        borderColor: COLORS[i],
        borderWidth: WIDTHS[i],
        pointRadius: 0,
        tension: 0,
        fill: false,
        order: ORDERS[i],
      })),
    },
    options: {
      animation: false,
      responsive: false,
      maintainAspectRatio: false,
      parsing: false,
      normalized: true,
      events: [],
      layout: { padding: { top: padTop, right: 2, left: 0, bottom: 0 } },
      plugins: {
        legend: { display: false },
        tooltip: { enabled: false },
        title: { display: false },
      },
      scales: {
        x: {
          type: "linear",
          min: T_MIN,
          max: T_MAX,
          afterBuildTicks: (s: any) => {
            s.ticks = X_TICKS.map((v) => ({ value: v }));
          },
          afterFit: (s: any) => {
            s.height = xAxisH;
          },
          grid: { display: false, drawTicks: false },
          border: { display: false },
          ticks: {
            autoSkip: false,
            maxRotation: 0,
            padding: 4,
            color: "#262626",
            font: TICK_FONT,
            callback: (v: any) => String(v),
          },
        },
        y: {
          min: -0.3,
          max: 0.3,
          afterBuildTicks: (s: any) => {
            s.ticks = Y_TICKS.map((v) => ({ value: v }));
          },
          afterFit: (s: any) => {
            s.width = 60;
          },
          grid: { display: false, drawTicks: false },
          border: { display: false },
          ticks: {
            autoSkip: false,
            padding: 5,
            color: "#262626",
            font: TICK_FONT,
            callback: (v: any) => {
              const idx = Y_TICKS.findIndex((t) => Math.abs(t - v) < 1e-9);
              return idx >= 0 ? Y_TICK_LABELS[idx] : "";
            },
          },
        },
      },
    },
    plugins: [makeDecor({ panel, legend, xTitle, marks })],
  };
}

export default function App() {
  const refA = useRef<HTMLCanvasElement | null>(null);
  const refB = useRef<HTMLCanvasElement | null>(null);

  useEffect(() => {
    const charts: Chart[] = [];
    if (refA.current) {
      charts.push(new Chart(refA.current, buildConfig(PANEL_A, 0, 24, 21, true, false, [])));
    }
    if (refB.current) {
      charts.push(new Chart(refB.current, buildConfig(PANEL_B, 1, 15, 32, false, true, MARK_T)));
    }
    return () => charts.forEach((c) => c.destroy());
  }, []);

  return (
    <div
      style={{
        position: "fixed",
        left: 0,
        top: 0,
        width: 878,
        height: 358,
        overflow: "hidden",
        background: "#fff",
      }}
    >
      <canvas
        ref={refA}
        width={CANVAS_W}
        height={178}
        style={{ position: "absolute", left: 0, top: 0, width: CANVAS_W, height: 178 }}
      />
      <canvas
        ref={refB}
        width={CANVAS_W}
        height={180}
        style={{ position: "absolute", left: 0, top: 178, width: CANVAS_W, height: 180 }}
      />
    </div>
  );
}
